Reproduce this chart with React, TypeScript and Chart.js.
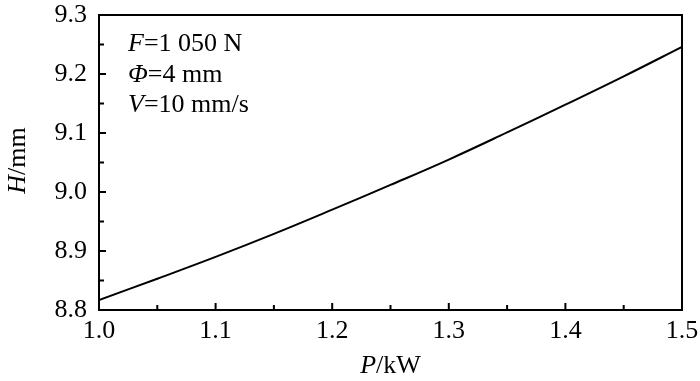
import React, { useEffect, useRef } from "react";
import { Chart, registerables } from "chart.js";

Chart.register(...registerables);

const powerKW = [1.0, 1.05, 1.1, 1.15, 1.2, 1.25, 1.3, 1.35, 1.4, 1.45, 1.5];
const heightMM = [8.817, 8.853, 8.89, 8.929, 8.97, 9.012, 9.055, 9.101, 9.148, 9.196, 9.246];
const xRange = [1.0, 1.5];
const yRange = [8.8, 9.3];
const annotationLines = [
  [{ t: "F", i: true }, { t: "=1 050 N", i: false }],
  [{ t: "Φ", i: true }, { t: "=4 mm", i: false }],
  [{ t: "V", i: true }, { t: "=10 mm/s", i: false }],
];
const xTitle = [{ t: "P", i: true }, { t: "/kW", i: false }];
const yTitle = [{ t: "H", i: true }, { t: "/mm", i: false }];

const FAMILY = "'Liberation Serif', 'Times New Roman', serif";
const SIZE = 26;

function isMajor(v: number) {
  return Math.abs(Math.round(v * 10) - v * 10) < 1e-6;
}

function drawMixed(ctx: CanvasRenderingContext2D, segs: { t: string; i: boolean }[], x: number, y: number, align: "left" | "center") {
  let total = 0;
  const widths = segs.map((s) => {
    ctx.font = `${s.i ? "italic " : ""}${SIZE}px ${FAMILY}`;
    const w = ctx.measureText(s.t).width;
    total += w;
    return w;
  });
  let cx = align === "center" ? x - total / 2 : x;
  segs.forEach((s, k) => {
    ctx.font = `${s.i ? "italic " : ""}${SIZE}px ${FAMILY}`;
    ctx.fillText(s.t, cx, y);
    cx += widths[k];
  });
}

const framePlugin = {
  id: "frame",
  afterDraw(chart: any) {
    const { ctx, chartArea } = chart;
    const { left, right, top, bottom } = chartArea;
    const xs = chart.scales.x;
    const ys = chart.scales.y;
    ctx.save();
    ctx.strokeStyle = "#000";
    ctx.lineWidth = 2;
    ctx.strokeRect(left, top, right - left, bottom - top);
    ctx.beginPath();
    xs.ticks.forEach((t: any) => {
      const px = xs.getPixelForValue(t.value);
      const len = isMajor(t.value) ? 7 : 5;
      ctx.moveTo(px, bottom);
      ctx.lineTo(px, bottom - len);
    });
    ys.ticks.forEach((t: any) => {
      const py = ys.getPixelForValue(t.value);
      const len = isMajor(t.value) ? 7 : 5;
      ctx.moveTo(left, py);
      ctx.lineTo(left + len, py);
    });
    ctx.stroke();

    ctx.fillStyle = "#000";
    ctx.textBaseline = "alphabetic";
    ctx.textAlign = "left";
    annotationLines.forEach((line, k) => {
      drawMixed(ctx, line, left + 29, top + 36 + k * 30.5, "left");
    });
    drawMixed(ctx, xTitle, (left + right) / 2, 373, "center");
    ctx.save();
    ctx.translate(25, (top + bottom) / 2 - 2);
    ctx.rotate(-Math.PI / 2);
    drawMixed(ctx, yTitle, 0, 0, "center");
    ctx.restore();
    ctx.restore();
  },
};

export default function App() {
  const ref = useRef<HTMLCanvasElement>(null);
  useEffect(() => {
    document.body.style.margin = "0";
    const chart = new Chart(ref.current!, {
      type: "line",
      data: {
        datasets: [
          {
            data: powerKW.map((x, k) => ({ x, y: heightMM[k] })),
            borderColor: "#000",
            borderWidth: 2,
            pointRadius: 0,
            tension: 0.4,
            fill: false,
          },
        ],
      },
      options: {
        animation: false,
        responsive: false,
        layout: { padding: { top: 15, right: 18, left: 0, bottom: 0 } },
        plugins: { legend: { display: false }, tooltip: { enabled: false } },
        scales: {
          x: {
            type: "linear",
            min: xRange[0],
            max: xRange[1],
            grid: { display: false, drawTicks: false },
            border: { display: false },
            ticks: {
              stepSize: 0.05,
              padding: 6,
              color: "#000",
              font: { family: FAMILY, size: SIZE },
              maxRotation: 0,
              autoSkip: false,
              callback: (v: any) => (isMajor(Number(v)) ? Number(v).toFixed(1) : ""),
            },
            afterFit: (s: any) => {
              s.height = 71;
              s.paddingLeft = 0;
              s.paddingRight = 0;
            },
          },
          y: {
            type: "linear",
            min: yRange[0],
            max: yRange[1],
            grid: { display: false, drawTicks: false },
            border: { display: false },
            ticks: {
              stepSize: 0.05,
              padding: 12,
              color: "#000",
              font: { family: FAMILY, size: SIZE },
              autoSkip: false,
              callback: (v: any) => (isMajor(Number(v)) ? Number(v).toFixed(1) : ""),
            },
            afterFit: (s: any) => {
              s.width = 99;
              s.paddingTop = 0;
              s.paddingBottom = 0;
            },
          },
        },
      },
      plugins: [framePlugin],
    } as any);
    return () => chart.destroy();
  }, []);
  return <canvas ref={ref} width={700} height={381} style={{ display: "block" }} />;
}
